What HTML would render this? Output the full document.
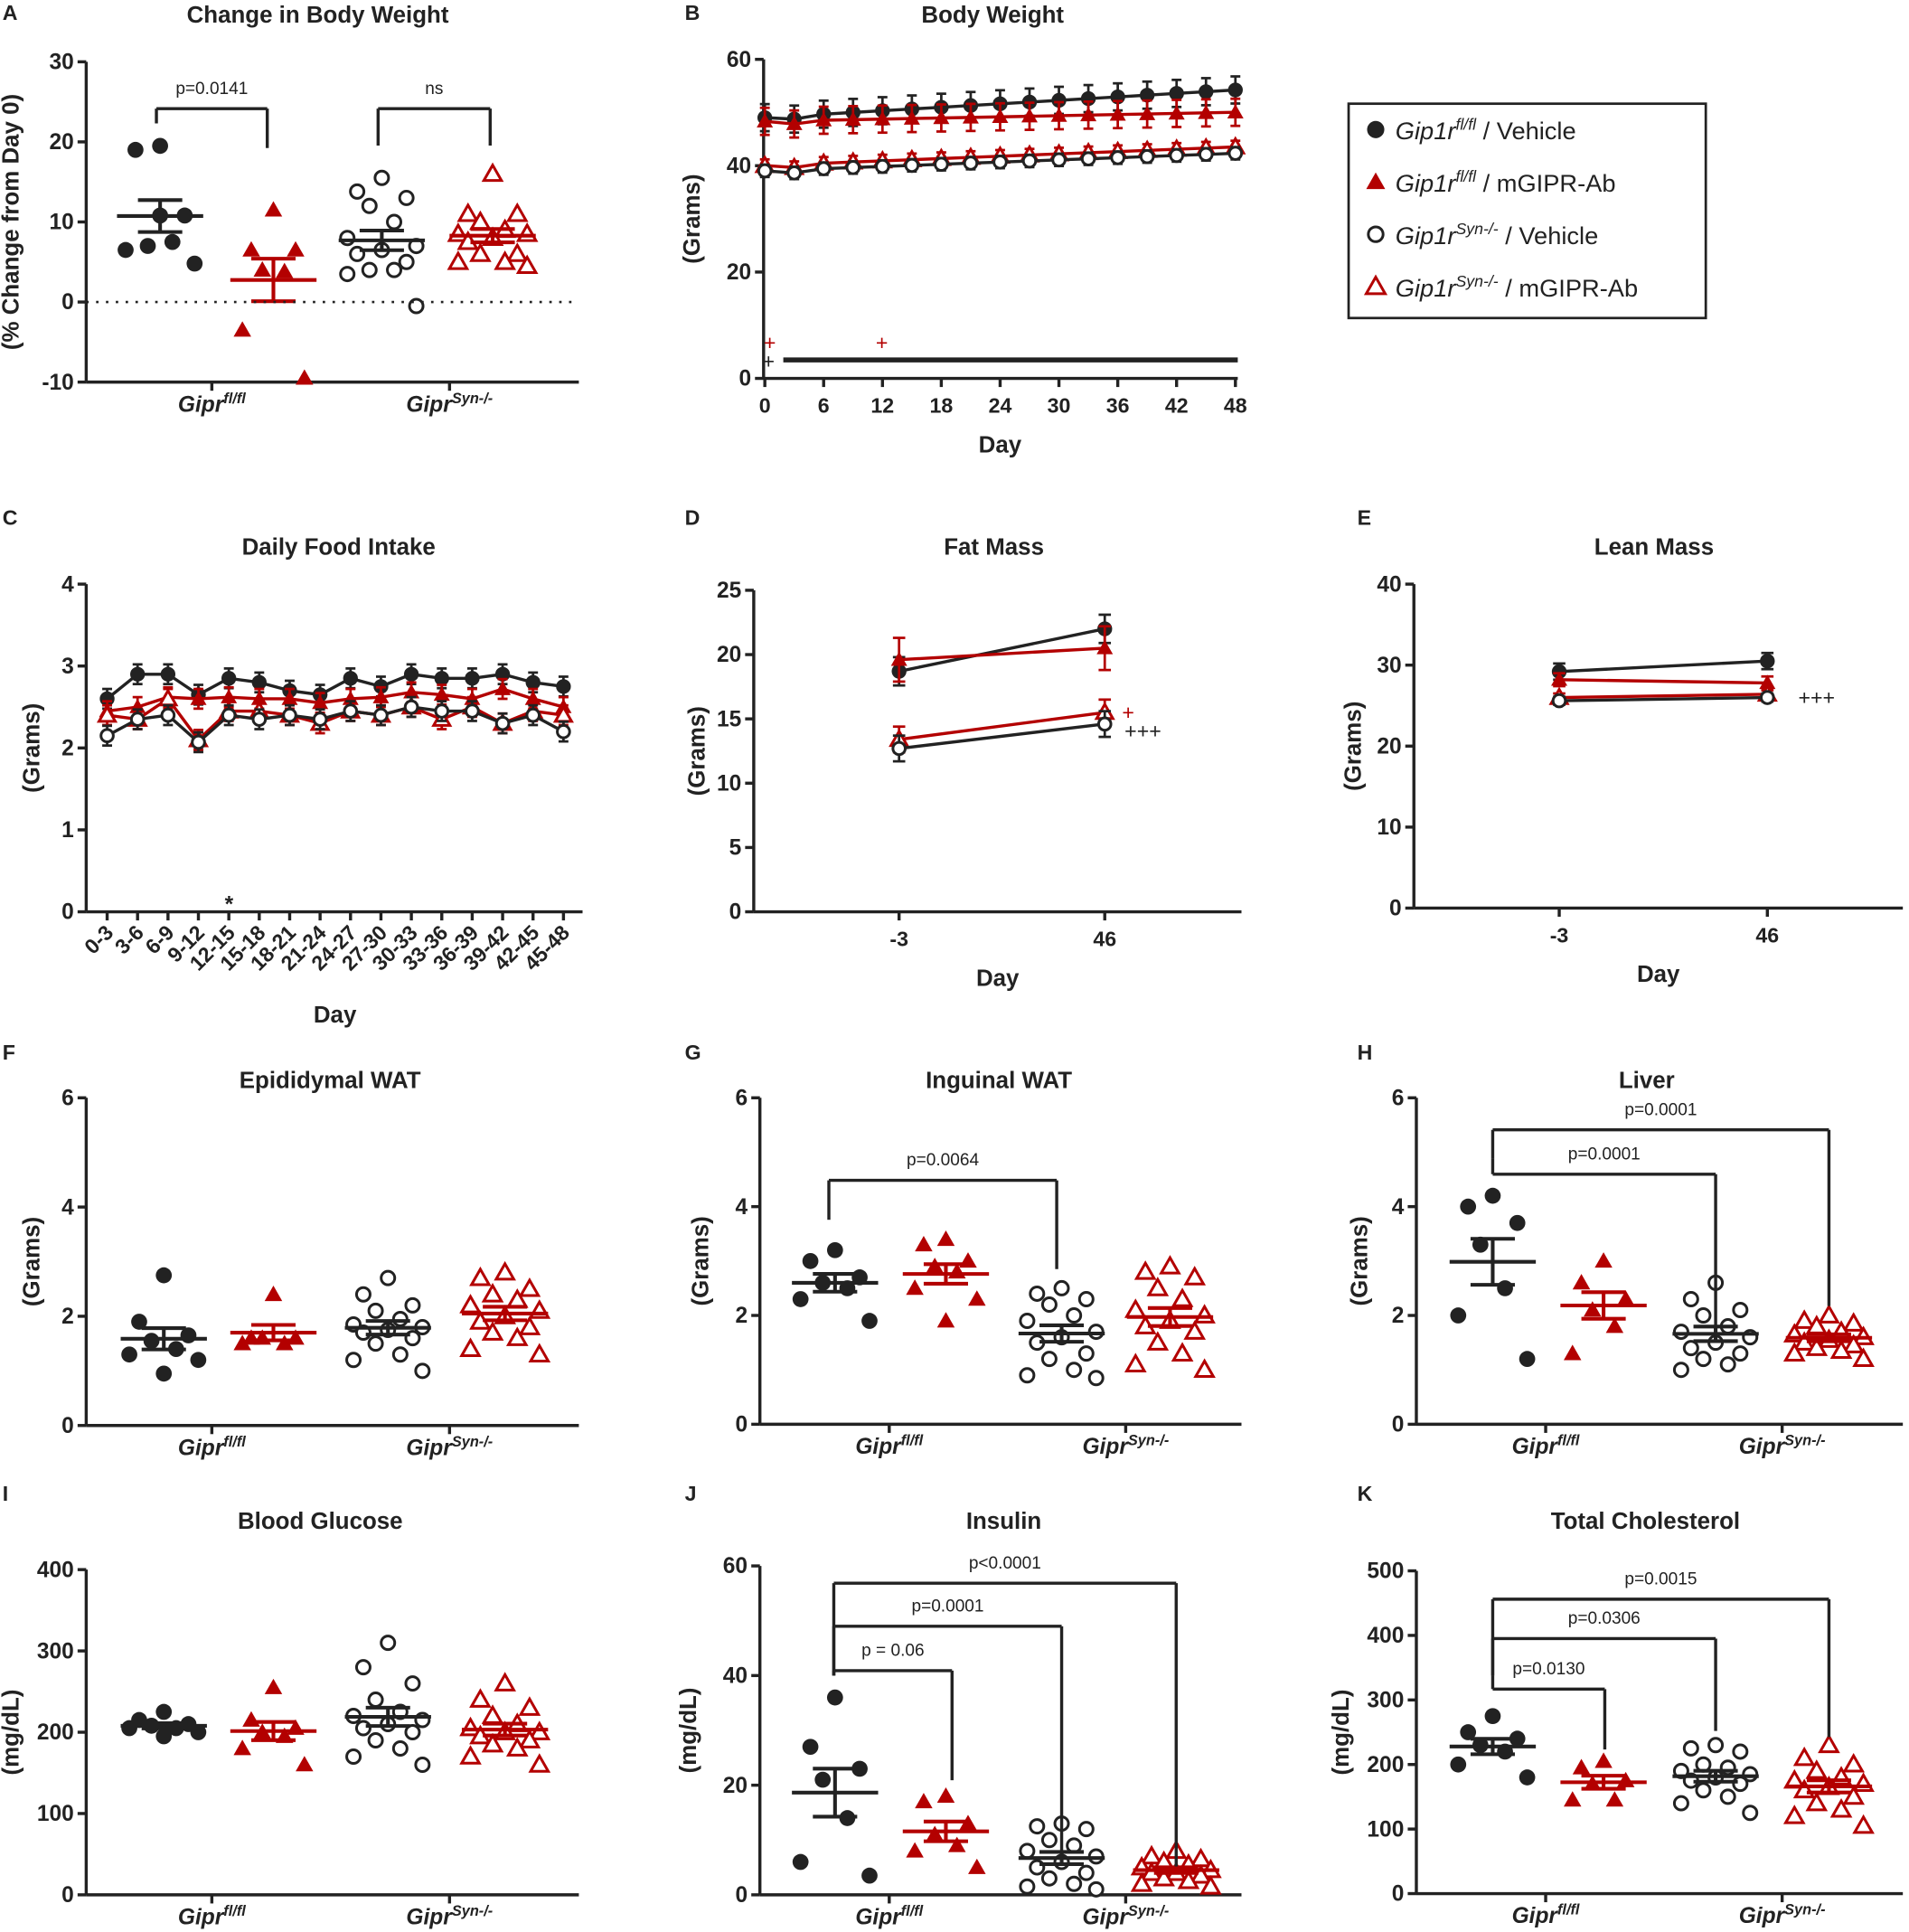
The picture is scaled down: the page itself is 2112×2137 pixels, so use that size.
<!DOCTYPE html>
<html><head><meta charset="utf-8"><style>
html,body{margin:0;padding:0;background:#fff;}
svg{display:block;font-family:"Liberation Sans",Arial,sans-serif;}
</style></head><body>
<svg id="s" width="2112" height="2137" viewBox="0 0 1550 1568" xmlns="http://www.w3.org/2000/svg"></svg>
<script>
const S=document.getElementById('s');let h='';
const R='#b30000',K='#222';
function t(x,y,s,o){o=o||{};h+=`<text x="${x}" y="${y}" font-size="${o.fs||17}" font-weight="${o.fw||'bold'}" text-anchor="${o.a||'middle'}" fill="${o.c||K}" ${o.tr?'transform="'+o.tr+'"':''} ${o.st?'font-style="italic"':''}>${s}</text>`;}
function L(x1,y1,x2,y2,c,w,d){h+=`<line x1="${x1}" y1="${y1}" x2="${x2}" y2="${y2}" stroke="${c||K}" stroke-width="${w||2.5}" ${d?'stroke-dasharray="'+d+'"':''}/>`;}
function M(type,x,y,r){r=r||6;
 if(type==0)h+=`<circle cx="${x}" cy="${y}" r="${r}" fill="${K}"/>`;
 else if(type==2)h+=`<circle cx="${x}" cy="${y}" r="${r-1}" fill="#fff" stroke="${K}" stroke-width="2.2"/>`;
 else{let a=r*1.1;let p=`${x},${y-a} ${x-a},${y+a*0.75} ${x+a},${y+a*0.75}`;
  h+= type==1?`<polygon points="${p}" fill="${R}"/>`:`<polygon points="${p}" fill="#fff" stroke="${R}" stroke-width="2.2"/>`;}}
function axisY(x,y0,y1,ticks,vmin,vmax,label,lx){L(x,y0,x,y1,K,2.5);
 ticks.forEach(v=>{let y=y0+(y1-y0)*(v-vmin)/(vmax-vmin);L(x-7,y,x,y);t(x-10,y+6,v,{a:'end',fs:18});});
 let cy=(y0+y1)/2;t(lx,cy,label,{fs:19,tr:`rotate(-90 ${lx} ${cy})`});}
function gl(x,y,sup){h+=`<text x="${x}" y="${y}" font-size="18" font-weight="bold" font-style="italic" text-anchor="middle" fill="${K}">Gipr<tspan dy="-7" font-size="12">${sup}</tspan></text>`;}
function title(x,y,s){t(x,y,s,{fs:19});}
function letter(x,y,s){t(x,y,s,{fs:17,a:'start'});}
function scatter(ax,ybot,ytop,vmin,vmax,ticks,xend,cx,groups,label,lx,tickx){
 const Y=v=>ybot-(v-vmin)/(vmax-vmin)*(ybot-ytop);
 axisY(ax,ybot,ytop,ticks,vmin,vmax,label,lx);L(ax,ybot,xend,ybot);
 tickx.forEach(x=>L(x,ybot,x,ybot+7));
 gl(tickx[0],ybot+24,'fl/fl');gl(tickx[1],ybot+24,'Syn-/-');
 groups.forEach((g,gi)=>{const c=cx[gi];const offs=[0,-20,20,-10,10,-28,28];
  g.forEach((v,i)=>{M(gi,c+offs[i%offs.length]*(gi==1?0.9:1),Y(v),6.5);});
  let m=g.reduce((a,b)=>a+b)/g.length;let sd=Math.sqrt(g.reduce((a,b)=>a+(b-m)**2,0)/(g.length-1));let se=sd/Math.sqrt(g.length);
  let col=(gi%2)?R:K;L(c-35,Y(m),c+35,Y(m),col,3);L(c,Y(m-se),c,Y(m+se),col,3);L(c-18,Y(m-se),c+18,Y(m-se),col,3);L(c-18,Y(m+se),c+18,Y(m+se),col,3);});
 return Y;}
function br(x1,x2,y,y1,y2,lab){L(x1,y1,x1,y);L(x1,y,x2,y);L(x2,y,x2,y2);t((x1+x2)/2,y-12,lab,{fw:'normal',fs:14});}
letter(2,16,'A');title(258,18,'Change in Body Weight');
let YA=scatter(70,310,50,-10,30,[-10,0,10,20,30],470,[130,222,310,400],
 [[19.5,19,10.8,7,7.5,6.5,4.8,10.8],[11.5,6.5,6.5,4,3.8,-3.5,-9.5],[15.5,13.8,13,12,10,8,7,6.5,6,5,4,4,3.5,-0.5],[16,11,11,10,9,8.5,8.5,8,7.5,6,6,5,5,4.5]],
 '(% Change from Day 0)',15,[172,365]);
L(70,245,470,245,K,2,'2,6');
br(127,217,88,100,120,'p=0.0141');br(307,398,88,118,118,'ns');
letter(556,16,'B');title(806,18,'Body Weight');
axisY(620,307,48,[0,20,40,60],0,60,'(Grams)',568);L(620,307,1005,307);
const XB=d=>621+d*7.96,YB=v=>307-v*4.32;
for(let d=0;d<=48;d+=6){L(XB(d),307,XB(d),314);t(XB(d),335,d);}
t(812,367,'Day',{fs:19});
let bs=[[0,49,54.2],[1,48.3,50],[3,40,43.5],[2,39,42.3]];
bs.forEach(([ty,a,b])=>{let col=(ty%2)?R:K;let pts=[];for(let i=0;i<17;i++){let v=a+(b-a)*i/16+(i==1?-0.6:0);pts.push([XB(i*3),YB(v)]);}
 h+=`<polyline points="${pts.map(p=>p.join(',')).join(' ')}" fill="none" stroke="${col}" stroke-width="2.5"/>`;
 pts.forEach(p=>{let e=ty<2?11:5;L(p[0],p[1]-e,p[0],p[1]+e,col,2);L(p[0]-4,p[1]-e,p[0]+4,p[1]-e,col,2);L(p[0]-4,p[1]+e,p[0]+4,p[1]+e,col,2);M(ty,p[0],p[1],6);});});
L(636,292,1005,292,K,4);t(625,284,'+',{c:R,fw:'normal'});t(716,284,'+',{c:R,fw:'normal'});t(624,299,'+',{fw:'normal'});
h+=`<rect x="1095" y="84" width="290" height="174" fill="#fff" stroke="${K}" stroke-width="2"/>`;
[['fl/fl','/ Vehicle',0],['fl/fl','/ mGIPR-Ab',1],['Syn-/-','/ Vehicle',2],['Syn-/-','/ mGIPR-Ab',3]].forEach(([s,r,ty],i)=>{let y=109+i*42.5;M(ty,1117,y-4,7);
 h+=`<text x="1133" y="${y+4}" font-size="20" fill="${K}"><tspan font-style="italic">Gip1r</tspan><tspan dy="-8" font-size="13" font-style="italic">${s}</tspan><tspan dy="8"> ${r}</tspan></text>`;});
letter(2,426,'C');title(275,450,'Daily Food Intake');
axisY(70,740,474,[0,1,2,3,4],0,4,'(Grams)',32);L(70,740,473,740);
const XC=i=>87+i*24.7,YC=v=>740-v*66.5;
const labs=['0-3','3-6','6-9','9-12','12-15','15-18','18-21','21-24','24-27','27-30','30-33','33-36','36-39','39-42','42-45','45-48'];
labs.forEach((l,i)=>{L(XC(i),740,XC(i),747);t(XC(i)+6,758,l,{a:'end',fs:17,tr:`rotate(-45 ${XC(i)+6} 758)`});});
t(272,830,'Day',{fs:19});t(186,740,'*',{fs:18});
const cs=[[0,[2.6,2.9,2.9,2.65,2.85,2.8,2.7,2.65,2.85,2.75,2.9,2.85,2.85,2.9,2.8,2.75]],[1,[2.45,2.5,2.62,2.6,2.62,2.6,2.6,2.55,2.6,2.62,2.68,2.65,2.6,2.72,2.6,2.5]],[3,[2.4,2.35,2.6,2.1,2.45,2.45,2.4,2.3,2.45,2.4,2.5,2.35,2.5,2.3,2.45,2.4]],[2,[2.15,2.35,2.4,2.07,2.4,2.35,2.4,2.35,2.45,2.4,2.5,2.45,2.45,2.3,2.4,2.2]]];
cs.forEach(([ty,vals])=>{let col=(ty%2)?R:K;let pts=vals.map((v,i)=>[XC(i),YC(v)]);
 h+=`<polyline points="${pts.map(p=>p.join(',')).join(' ')}" fill="none" stroke="${col}" stroke-width="2.5"/>`;
 pts.forEach(p=>{let e=8;L(p[0],p[1]-e,p[0],p[1]+e,col,2);L(p[0]-4,p[1]-e,p[0]+4,p[1]-e,col,2);L(p[0]-4,p[1]+e,p[0]+4,p[1]+e,col,2);M(ty,p[0],p[1],6);});});
function prepost(ax,ybot,ytop,vmax,ticks,xend,x1,x2,ser,lx){
 axisY(ax,ybot,ytop,ticks,0,vmax,'(Grams)',lx);L(ax,ybot,xend,ybot);
 const Y=v=>ybot-v/vmax*(ybot-ytop);
 [[x1,'-3'],[x2,'46']].forEach(([x,l])=>{L(x,ybot,x,ybot+7);t(x,ybot+28,l);});
 t((ax+xend)/2,ybot+60,'Day',{fs:19});
 ser.forEach(([ty,a,b,e])=>{let col=(ty%2)?R:K;L(x1,Y(a),x2,Y(b),col,2.5);[[x1,a],[x2,b]].forEach(([x,v])=>{let y=Y(v),ee=e*(ybot-ytop)/vmax;L(x,y-ee,x,y+ee,col,2);L(x-5,y-ee,x+5,y-ee,col,2);L(x-5,y+ee,x+5,y+ee,col,2);M(ty,x,y,6);});});
 return Y;}
letter(556,426,'D');title(807,450,'Fat Mass');
prepost(612,740,479,25,[0,5,10,15,20,25],1008,730,897,[[0,18.7,22,1.1],[1,19.6,20.5,1.7],[3,13.4,15.5,1],[2,12.7,14.6,1]],572);
t(916,584,'+',{c:R,fw:'normal'});t(928,599,'+++',{fw:'normal'});
letter(1102,426,'E');title(1343,450,'Lean Mass');
prepost(1148,737,474,40,[0,10,20,30,40],1545,1266,1435,[[0,29.2,30.5,1],[1,28.2,27.8,0.8],[3,26,26.4,0.5],[2,25.6,26,0.5]],1105);
t(1475,572,'+++',{fw:'normal'});
letter(2,860,'F');title(268,883,'Epididymal WAT');
scatter(70,1157,891,0,6,[0,2,4,6],470,[133,222,315,410],
 [[2.75,1.9,1.65,1.55,1.4,1.3,1.2,0.95],[2.4,1.6,1.6,1.6,1.5,1.5],[2.7,2.4,2.2,2.1,1.95,1.85,1.8,1.75,1.7,1.6,1.5,1.3,1.2,1.0],[2.8,2.7,2.5,2.4,2.3,2.2,2.1,2.0,1.9,1.8,1.7,1.6,1.4,1.3]],'(Grams)',32,[172,365]);
letter(556,860,'G');title(811,883,'Inguinal WAT');
scatter(617,1156,891,0,6,[0,2,4,6],1008,[678,768,862,950],
 [[3.2,3.0,2.7,2.6,2.5,2.3,1.9],[3.4,3.3,3.0,2.9,2.8,2.5,2.3,1.9],[2.5,2.4,2.3,2.2,2.0,1.9,1.7,1.6,1.5,1.3,1.2,1.0,0.9,0.85],[2.9,2.8,2.7,2.5,2.3,2.1,2.0,1.9,1.8,1.7,1.5,1.3,1.1,1.0]],'(Grams)',575,[722,914]);
br(673,858,958,990,1030,'p=0.0064');
letter(1102,860,'H');title(1337,883,'Liver');
scatter(1150,1156,891,0,6,[0,2,4,6],1545,[1212,1302,1393,1485],
 [[4.2,4.0,3.7,3.3,2.5,2.0,1.2],[3.0,2.6,2.3,2.1,1.8,1.3],[2.6,2.3,2.1,2.0,1.8,1.7,1.6,1.5,1.4,1.3,1.2,1.1,1.0],[2.0,1.9,1.85,1.8,1.7,1.65,1.6,1.55,1.5,1.45,1.4,1.35,1.3,1.2]],'(Grams)',1110,[1255,1447]);
br(1212,1485,917,940,1060,'p=0.0001');br(1212,1393,953,940,1090,'p=0.0001');
letter(2,1218,'I');title(260,1241,'Blood Glucose');
scatter(70,1538,1274,0,400,[0,100,200,300,400],470,[133,222,315,410],
 [[225,215,210,208,205,205,200,195],[255,215,205,200,195,180,160],[310,280,260,240,225,220,215,210,205,200,190,180,170,160],[260,240,230,220,210,205,200,200,195,190,185,180,170,160]],'(mg/dL)',15,[172,365]);
letter(556,1218,'J');title(815,1241,'Insulin');
scatter(617,1538,1271,0,60,[0,20,40,60],1008,[678,768,862,955],
 [[36,27,23,21,14,6,3.5],[18,17,13,11,9,8,5],[13,12.5,12,10,9,8,7,6,5,4,3,2,1.5,1],[8,7,6.5,6,5.5,5,4.5,4,4,3.5,3,2.5,2,1.5]],'(mg/dL)',565,[722,914]);
br(677,773,1356,1360,1445,'p = 0.06');br(677,862,1320,1360,1505,'p=0.0001');br(677,955,1285,1360,1515,'p&lt;0.0001');
letter(1102,1218,'K');title(1336,1241,'Total Cholesterol');
scatter(1150,1537,1275,0,500,[0,100,200,300,400,500],1545,[1212,1302,1393,1485],
 [[275,250,240,230,220,200,180],[205,195,175,170,145,145],[230,225,220,200,195,190,185,180,175,170,160,150,140,125],[230,210,200,190,180,175,170,165,160,150,140,130,120,105]],'(mg/dL)',1095,[1255,1447]);
br(1212,1303,1371,1360,1420,'p=0.0130');br(1212,1393,1330,1360,1405,'p=0.0306');br(1212,1485,1298,1360,1410,'p=0.0015');
S.innerHTML=h;
</script>
</body></html>
